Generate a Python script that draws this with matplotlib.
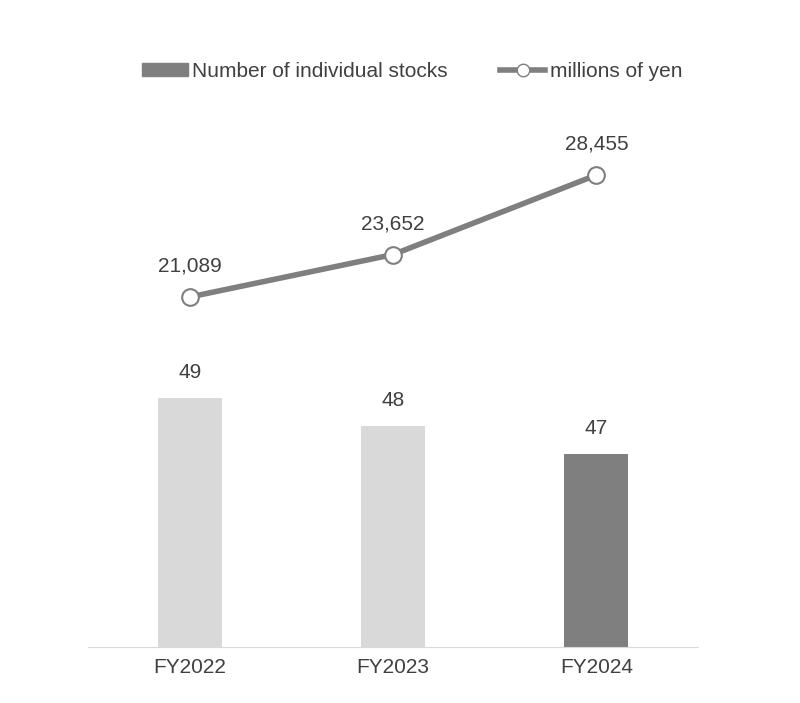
import matplotlib
matplotlib.use("Agg")
import matplotlib.pyplot as plt
from matplotlib.lines import Line2D
from matplotlib.patches import Patch

categories = ["FY2022", "FY2023", "FY2024"]
stocks = [49, 48, 47]
amounts = [21089, 23652, 28455]
bar_colors = ["#d9d9d9", "#d9d9d9", "#7f7f7f"]

plt.rcParams['font.family'] = ['Liberation Sans', 'DejaVu Sans']
tc = "#404040"
fig = plt.figure(figsize=(8, 7.03), dpi=100)
ax = fig.add_axes([0.11, 0.0797, 0.7625, 0.778])
x = range(len(categories))
ax.bar(x, stocks, width=0.315, color=bar_colors, zorder=2)
ax.set_ylim(40.1, 59.64)
ax.set_xlim(-0.5, 2.5)
for i, v in zip(x, stocks):
    ax.text(i, v + 0.55, str(v), ha="center", va="bottom", fontsize=15, color=tc)
for s in ["top", "right", "left"]:
    ax.spines[s].set_visible(False)
ax.spines["bottom"].set_color("#d9d9d9")
ax.set_yticks([])
ax.set_xticks(list(x))
ax.set_xticklabels(categories, fontsize=15, color=tc)
ax.tick_params(axis="x", length=0, pad=8)

ax2 = ax.twinx()
ax2.set_ylim(-46, 32985)
ax2.plot(x, amounts, color="#7f7f7f", lw=4, marker="o", ms=12,
         mfc="white", mec="#7f7f7f", mew=1.5, zorder=3)
for i, v in zip(x, amounts):
    ax2.text(i, v + 1300, f"{v:,}", ha="center", va="bottom", fontsize=15, color=tc)
ax2.axis("off")

handles = [Patch(color="#7f7f7f"),
           Line2D([0], [0], color="#7f7f7f", lw=4, marker="o", ms=9,
                  mfc="white", mec="#7f7f7f")]
fig.legend(handles, ["Number of individual stocks", "millions of yen"],
           loc="center", bbox_to_anchor=(0.515, 0.898), ncol=2, frameon=False,
           fontsize=15, labelcolor=tc, handlelength=2.2, handletextpad=0.2,
           columnspacing=2.5, handleheight=0.6)
fig.savefig("out.png", dpi=100, facecolor="white")
